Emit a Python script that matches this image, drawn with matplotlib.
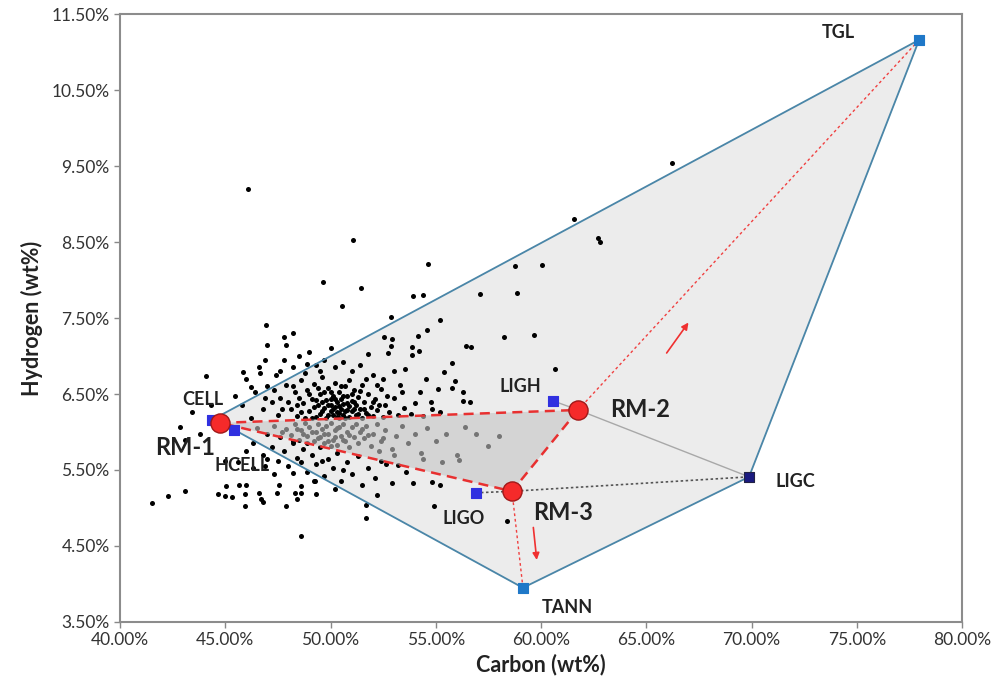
import numpy as np
import matplotlib
matplotlib.use('Agg')
import matplotlib.pyplot as plt
from matplotlib.ticker import FuncFormatter

plt.rcParams['font.family'] = ['Lato', 'DejaVu Sans']

# end members (carbon %, hydrogen %)
members = ['CELL', 'HCELL', 'LIGH', 'LIGO', 'LIGC', 'TGL', 'TANN']
mem_c = [44.37, 45.42, 60.57, 56.91, 69.88, 77.96, 59.14]
mem_h = [6.16, 6.03, 6.41, 5.20, 5.41, 11.16, 3.95]

# reference mixtures
rm_names = ['RM-1', 'RM-2', 'RM-3']
rm_c = [44.75, 61.76, 58.62]
rm_h = [6.12, 6.29, 5.22]

# biomass samples
pts_outer = [(46.08, 9.20), (51.07, 8.53), (66.22, 9.54), (61.57, 8.80), (62.71, 8.55),
             (62.80, 8.50), (54.63, 8.21), (58.76, 8.18), (60.05, 8.20), (49.64, 7.97),
             (51.45, 7.89), (50.55, 7.66), (53.92, 7.79), (54.39, 7.80), (57.10, 7.82),
             (58.86, 7.83), (52.87, 7.51), (55.20, 7.47), (54.58, 7.34), (58.24, 7.25),
             (59.67, 7.28), (46.94, 7.41), (47.79, 7.25), (48.22, 7.30), (60.67, 6.83)]
pts_upper = [(52.54, 7.25), (52.92, 7.22), (54.16, 7.26), (52.87, 7.13), (52.73, 7.04),
             (53.87, 7.12), (54.21, 7.07), (53.87, 7.01), (53.54, 6.83), (56.44, 7.13),
             (56.67, 7.12), (55.77, 6.91), (55.39, 6.79), (55.91, 6.67), (55.77, 6.58),
             (56.29, 6.53), (54.54, 6.70), (54.25, 6.53), (55.11, 6.57), (54.77, 6.40),
             (56.29, 6.41), (56.63, 6.40)]
pts_left = [(44.09, 6.74), (45.84, 6.79), (46.65, 6.78), (46.22, 6.59), (45.46, 6.47),
            (43.42, 6.26), (42.85, 6.07), (43.09, 5.90), (47.89, 7.14), (44.30, 6.35),
            (46.90, 6.95), (47.60, 6.80), (43.80, 5.98),
            (41.52, 5.07), (42.28, 5.16), (43.09, 5.22), (44.66, 5.18), (45.04, 5.29),
            (45.65, 5.30), (45.00, 5.16), (45.32, 5.14), (45.94, 5.18), (46.00, 5.30),
            (46.60, 5.20), (46.70, 5.12), (45.94, 5.03), (46.79, 5.08), (47.46, 5.20),
            (47.90, 5.03), (48.40, 5.12), (48.30, 5.20), (48.60, 5.20), (48.20, 5.46),
            (47.55, 5.30), (48.60, 5.29), (49.26, 5.36), (49.31, 5.18), (51.69, 4.87),
            (51.69, 5.04), (48.60, 4.63), (45.60, 5.60), (45.00, 5.62), (46.30, 5.52),
            (46.90, 5.55), (47.30, 5.45)]
pts_core = [(47.6, 6.45), (47.9, 6.62), (48.1, 6.30), (48.3, 6.52), (48.4, 6.21), (48.6, 6.68),
            (48.7, 6.38), (48.8, 6.18), (48.9, 6.55), (49.0, 6.27), (49.1, 6.44), (49.2, 6.63),
            (49.3, 6.20), (49.4, 6.35), (49.5, 6.50), (49.5, 6.24), (49.6, 6.72), (49.7, 6.31),
            (49.8, 6.42), (49.8, 6.19), (49.9, 6.58), (50.0, 6.28), (50.0, 6.36), (50.1, 6.47),
            (50.1, 6.22), (50.2, 6.33), (50.2, 6.65), (50.3, 6.26), (50.3, 6.40), (50.4, 6.53),
            (50.4, 6.18), (50.5, 6.30), (50.5, 6.44), (50.6, 6.23), (50.6, 6.37), (50.7, 6.60),
            (50.7, 6.28), (50.8, 6.48), (50.9, 6.20), (50.9, 6.34), (51.0, 6.41), (51.0, 6.27),
            (51.1, 6.55), (51.2, 6.22), (51.2, 6.36), (51.3, 6.46), (51.4, 6.30), (51.5, 6.19),
            (51.5, 6.62), (51.6, 6.39), (51.7, 6.25), (51.8, 6.50), (51.9, 6.33), (52.0, 6.21),
            (52.1, 6.43), (52.2, 6.29), (52.4, 6.56), (52.5, 6.20), (52.6, 6.35), (52.8, 6.26),
            (53.0, 6.45), (53.2, 6.22), (53.5, 6.31), (53.8, 6.24), (54.0, 6.38), (54.4, 6.21),
            (54.8, 6.30), (55.2, 6.26), (45.8, 6.35), (46.0, 6.70), (46.2, 6.18), (46.4, 6.52),
            (46.6, 6.85), (46.8, 6.30), (47.0, 6.60), (47.2, 6.40), (47.4, 6.75), (47.5, 6.22),
            (47.8, 6.95), (48.2, 6.85), (48.5, 7.00), (48.9, 6.90), (49.3, 6.88), (49.7, 6.95),
            (50.2, 6.85), (50.6, 6.92), (51.0, 6.80), (51.4, 6.88), (52.0, 6.75), (52.5, 6.70),
            (53.0, 6.80), (49.0, 7.05), (50.0, 7.10), (51.8, 7.02), (53.3, 6.62), (47.0, 7.15),
            (49.2, 6.33), (49.6, 6.40), (50.0, 6.52), (50.4, 6.25), (50.8, 6.38), (49.9, 6.22),
            (50.5, 6.60), (51.1, 6.30), (49.4, 6.58), (50.2, 6.43),
            (48.0, 6.40), (48.5, 6.45), (48.6, 6.26), (49.0, 6.50), (49.1, 6.19), (49.3, 6.42),
            (49.6, 6.28), (49.7, 6.52), (49.9, 6.35), (50.0, 6.44), (50.1, 6.30), (50.3, 6.20),
            (50.4, 6.34), (50.6, 6.48), (50.7, 6.19), (50.8, 6.29), (51.0, 6.50), (51.1, 6.40),
            (51.3, 6.24), (51.4, 6.54), (51.6, 6.30), (51.8, 6.22), (52.0, 6.40), (52.3, 6.35),
            (52.7, 6.48), (53.4, 6.52), (48.2, 6.60), (48.8, 6.78), (49.5, 6.80), (50.9, 6.68),
            (51.7, 6.70), (52.2, 6.62), (47.3, 6.55), (46.9, 6.45), (47.7, 6.30), (48.4, 6.35)]
pts_mid = [(46.5, 6.05), (47.0, 5.98), (47.3, 6.08), (47.6, 5.93), (47.9, 6.04), (48.1, 5.96),
           (48.3, 6.10), (48.5, 5.90), (48.6, 6.02), (48.8, 6.12), (48.9, 5.95), (49.0, 6.06),
           (49.2, 5.88), (49.3, 6.00), (49.4, 6.11), (49.5, 5.93), (49.6, 6.04), (49.7, 5.85),
           (49.8, 6.08), (49.9, 5.97), (50.0, 6.12), (50.1, 5.90), (50.2, 6.02), (50.3, 5.83),
           (50.4, 6.07), (50.5, 5.95), (50.6, 6.10), (50.7, 5.88), (50.8, 6.00), (50.9, 5.80),
           (51.0, 6.06), (51.1, 5.93), (51.2, 6.11), (51.3, 5.85), (51.4, 6.00), (51.6, 5.92),
           (51.7, 6.08), (51.9, 5.82), (52.0, 5.98), (52.2, 6.10), (52.4, 5.88), (52.6, 6.02),
           (52.9, 5.78), (53.1, 5.95), (53.4, 6.08), (53.7, 5.85), (54.0, 5.98), (54.3, 5.72),
           (54.6, 6.05), (55.0, 5.88), (55.5, 5.98), (56.0, 5.70), (56.4, 6.06), (56.9, 5.97),
           (57.5, 5.82), (53.0, 5.70), (52.3, 5.75), (55.3, 5.60), (56.1, 5.63), (54.4, 5.64),
           (58.0, 5.95), (49.1, 6.00), (49.7, 5.98), (50.3, 6.05), (50.9, 5.96), (48.7, 5.97),
           (48.2, 5.88), (48.9, 5.85), (49.4, 5.92), (49.9, 5.88), (50.2, 5.94), (50.6, 5.90),
           (51.5, 6.04), (51.8, 5.96), (52.5, 5.92), (47.7, 6.00), (48.4, 6.04), (50.0, 5.82)]
pts_lower = [(46.0, 5.75), (46.3, 5.85), (46.8, 5.70), (47.2, 5.80), (47.5, 5.62), (47.8, 5.75),
             (48.0, 5.55), (48.2, 5.85), (48.4, 5.66), (48.7, 5.78), (48.9, 5.48), (49.1, 5.70),
             (49.3, 5.58), (49.5, 5.80), (49.7, 5.42), (49.9, 5.64), (50.1, 5.52), (50.3, 5.72),
             (50.5, 5.36), (50.8, 5.60), (51.0, 5.45), (51.3, 5.68), (51.5, 5.30), (51.8, 5.52),
             (52.1, 5.40), (52.4, 5.62), (52.64, 5.58), (53.2, 5.57), (52.9, 5.33), (53.9, 5.33),
             (54.8, 5.34), (55.2, 5.30), (54.9, 5.03), (58.4, 4.83), (52.2, 5.17), (53.6, 5.48),
             (50.2, 5.25), (49.2, 5.35), (48.6, 5.60), (49.6, 5.62), (50.6, 5.50), (47.0, 5.65)]

samples = pts_outer + pts_upper + pts_left + pts_core + pts_mid + pts_lower
samp_c = [p[0] for p in samples]
samp_h = [p[1] for p in samples]

m = dict(zip(members, zip(mem_c, mem_h)))
r = dict(zip(rm_names, zip(rm_c, rm_h)))

fig = plt.figure(figsize=(10.01, 6.98), dpi=100)
ax = fig.add_axes([0.1199, 0.1089, 0.8412, 0.871])

# hull of end members
hull = ['CELL', 'TGL', 'LIGC', 'TANN', 'HCELL']
hx = [m[k][0] for k in hull]
hy = [m[k][1] for k in hull]
ax.fill(hx, hy, color='#ececec', zorder=1)
ax.plot(hx + [hx[0]], hy + [hy[0]], color='#4a86a8', lw=1.3, zorder=5)

ax.scatter(samp_c, samp_h, s=13, color='black', zorder=2, linewidths=0)

# inner triangle of reference mixtures
ax.fill(rm_c, rm_h, color='#c4c4c4', alpha=0.6, zorder=3, lw=0)
tri = [0, 1, 2, 0]
ax.plot([rm_c[i] for i in tri], [rm_h[i] for i in tri], color='#e83030',
        lw=1.8, ls=(0, (4, 2.5)), zorder=6)

# connecting lines
ax.plot([r['RM-2'][0], m['TGL'][0]], [r['RM-2'][1], m['TGL'][1]], color='#f04040',
        lw=1.0, ls=(0, (2, 2)), zorder=6)
ax.plot([r['RM-3'][0], m['TANN'][0]], [r['RM-3'][1], m['TANN'][1]], color='#f04040',
        lw=1.0, ls=(0, (2, 2)), zorder=6)
ax.plot([m['LIGH'][0], r['RM-2'][0], m['LIGC'][0]], [m['LIGH'][1], r['RM-2'][1], m['LIGC'][1]],
        color='#a8a8a8', lw=1.0, zorder=6)
ax.plot([m['LIGO'][0], r['RM-3'][0], m['LIGC'][0]], [m['LIGO'][1], r['RM-3'][1], m['LIGC'][1]],
        color='#555555', lw=1.2, ls=(0, (1.5, 1.5)), zorder=6)

# arrows
ax.annotate('', xy=(67.08, 7.47), xytext=(65.89, 7.01),
            arrowprops=dict(arrowstyle='-|>', color='#f03030', lw=1.2, mutation_scale=10), zorder=7)
ax.annotate('', xy=(59.81, 4.28), xytext=(59.62, 4.78),
            arrowprops=dict(arrowstyle='-|>', color='#f03030', lw=1.2, mutation_scale=10), zorder=7)

# end member markers
sq_col = {'CELL': '#3030e0', 'HCELL': '#3030e0', 'LIGH': '#3030e0', 'LIGO': '#3030e0',
          'LIGC': '#1a1a80', 'TGL': '#1f78c8', 'TANN': '#1f78c8'}
for k in members:
    ax.scatter(m[k][0], m[k][1], marker='s', s=55, color=sq_col[k],
               edgecolors='#222244' if k == 'LIGC' else sq_col[k], lw=0.8, zorder=8)
ax.scatter(rm_c, rm_h, s=190, color='#f52a2a', edgecolors='#a01818', lw=1.0, zorder=9)

lab = dict(fontweight='bold', color='#222222', zorder=10)
ax.text(73.35, 11.18, 'TGL', fontsize=13, **lab)
ax.text(42.95, 6.36, 'CELL', fontsize=13, **lab)
ax.text(44.51, 5.49, 'HCELL', fontsize=13, **lab)
ax.text(58.05, 6.53, 'LIGH', fontsize=13, **lab)
ax.text(71.12, 5.28, 'LIGC', fontsize=13, **lab)
ax.text(55.30, 4.79, 'LIGO', fontsize=13, **lab)
ax.text(60.05, 3.62, 'TANN', fontsize=13, **lab)
ax.text(41.66, 5.70, 'RM-1', fontsize=17, **lab)
ax.text(63.28, 6.20, 'RM-2', fontsize=17, **lab)
ax.text(59.62, 4.84, 'RM-3', fontsize=17, **lab)

ax.set_xlim(40, 80)
ax.set_ylim(3.5, 11.5)
ax.set_xticks(np.arange(40, 80.1, 5))
ax.set_yticks(np.arange(3.5, 11.6, 1.0))
ax.xaxis.set_major_formatter(FuncFormatter(lambda v, p: '{:.2f}%'.format(v)))
ax.yaxis.set_major_formatter(FuncFormatter(lambda v, p: '{:.2f}%'.format(v)))
ax.tick_params(labelsize=12.5, colors='#888888', labelcolor='#333333', length=4, width=1)
for s in ax.spines.values():
    s.set_color('#8c8c8c')
    s.set_linewidth(1.5)

ax.set_xlabel('Carbon (wt%)', fontsize=15.5, fontweight='bold', color='#222222', labelpad=4)
ax.set_ylabel('Hydrogen (wt%)', fontsize=15.5, fontweight='bold', color='#222222', labelpad=6)

fig.savefig('out.png', dpi=100)
